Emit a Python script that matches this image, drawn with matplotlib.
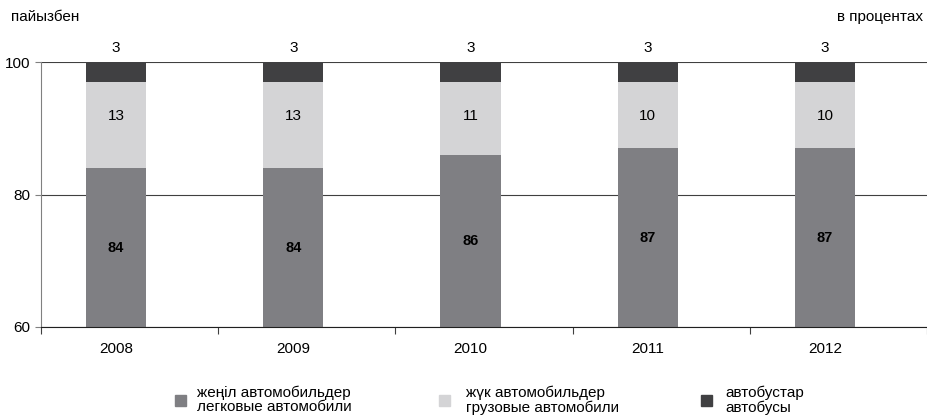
import matplotlib.pyplot as plt
import matplotlib.patches as mpatches

plt.rcParams['font.family'] = ['Liberation Sans', 'DejaVu Sans']

years = ['2008', '2009', '2010', '2011', '2012']
cars = [84, 84, 86, 87, 87]
trucks = [13, 13, 11, 10, 10]
buses = [3, 3, 3, 3, 3]
legend_labels = ['жеңіл автомобильдер\nлегковые автомобили',
                 'жүк автомобильдер\nгрузовые автомобили',
                 'автобустар\nавтобусы']

c_cars = '#7f7f83'
c_trucks = '#d4d4d6'
c_buses = '#404042'

fig = plt.figure(figsize=(9.27, 4.18), dpi=100)
ax = fig.add_axes([41 / 927, 1 - 327 / 418, 886 / 927, 265 / 418])

x = list(range(len(years)))
w = 0.34
off = 0.076  # bars sit a bit left of the category centre
ax.bar(x, cars, w, color=c_cars, zorder=2)
ax.bar(x, trucks, w, bottom=cars, color=c_trucks, zorder=2)
tops = [a + b for a, b in zip(cars, trucks)]
ax.bar(x, buses, w, bottom=tops, color=c_buses, zorder=2)

ymin = 60
for i in x:
    ax.text(i, (ymin + cars[i]) / 2, str(cars[i]), ha='center', va='center',
            fontsize=10.5, fontweight='bold', zorder=3)
    # truck labels sit a fixed distance below the top of the truck segment
    ax.text(i, tops[i] - 5.1, str(trucks[i]), ha='center', va='center',
            fontsize=11, zorder=3)
    ax.text(i, 101, str(buses[i]), ha='center', va='bottom', fontsize=11, clip_on=False)

ax.set_ylim(60, 100)
ax.set_xlim(-0.5 + off, len(years) - 0.5 + off)
ax.set_yticks([60, 80, 100])
ax.tick_params(axis='y', labelsize=11, length=4, color='#808080')
ax.yaxis.grid(True, color='#404040', linewidth=0.8, zorder=1)

# x ticks at category boundaries, year labels under the bars
ax.set_xticks([i - 0.5 + off for i in range(len(years) + 1)])
ax.set_xticklabels([])
ax.set_xticks(x, minor=True)
ax.set_xticklabels(years, minor=True, fontsize=11)
ax.tick_params(axis='x', which='major', length=5, color='#404040')
ax.tick_params(axis='x', which='minor', length=0, pad=11)

for s in ['top', 'right']:
    ax.spines[s].set_visible(False)
ax.spines['left'].set_color('#808080')
ax.spines['bottom'].set_color('#202020')

fig.text(11 / 927, 1 - 17 / 418, 'пайызбен', fontsize=11, va='center')
fig.text(923 / 927, 1 - 17 / 418, 'в процентах', fontsize=11, va='center', ha='right')

# legend drawn by hand: square + two-line label
sq_x = [175, 439, 701]
txt_x = [197, 466, 725]
cols = [c_cars, c_trucks, c_buses]
for sx, tx, c, lab in zip(sq_x, txt_x, cols, legend_labels):
    fig.patches.append(mpatches.Rectangle((sx / 927, 1 - 406 / 418), 11 / 927, 11 / 418,
                                          transform=fig.transFigure, color=c, figure=fig))
    fig.text(tx / 927, 1 - 400 / 418, lab, fontsize=11, va='center', linespacing=1.05)

fig.savefig('out.png', dpi=100)
